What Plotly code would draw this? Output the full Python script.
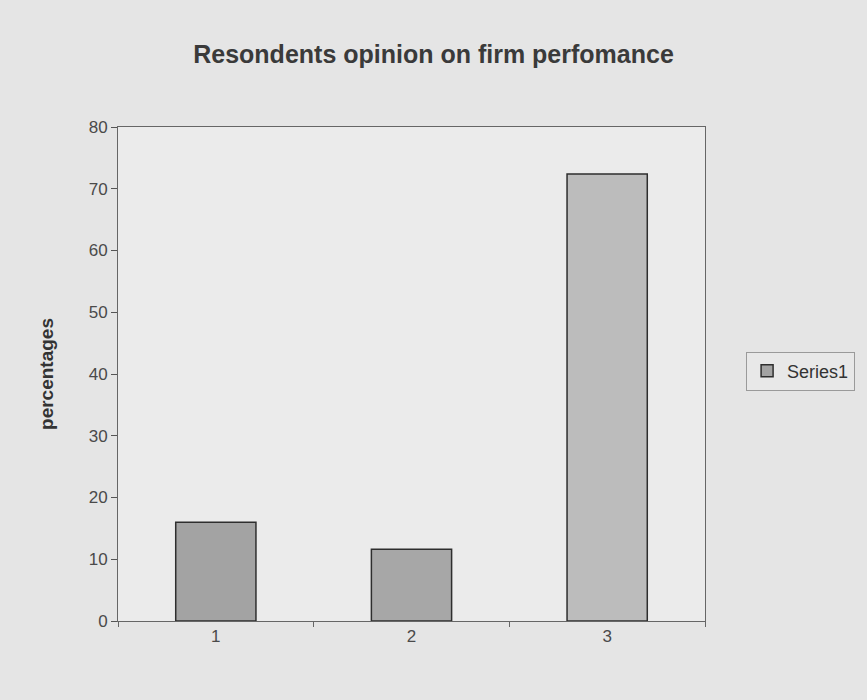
import plotly.graph_objects as go

categories = ["1", "2", "3"]
values = [16.0, 11.6, 72.4]
series_name = "Series1"
y_ticks = [0, 10, 20, 30, 40, 50, 60, 70, 80]
title_text = "Resondents opinion on firm perfomance"
y_title = "percentages"

bar_colors = ["#a3a3a3", "#a7a7a7", "#bcbcbc"]

fig = go.Figure()
fig.add_trace(go.Bar(
    x=categories, y=values, name=series_name,
    marker=dict(color=bar_colors, line=dict(color="#2e2e2e", width=1.5)),
    width=0.41, showlegend=True,
))

font_family = "Liberation Sans, Arial, sans-serif"
fig.update_layout(
    width=867, height=700,
    margin=dict(l=118, r=160, t=127, b=79),
    paper_bgcolor="#e5e5e5",
    plot_bgcolor="#ebebeb",
    font=dict(family=font_family, color="#333333", size=17),
    title=dict(text="<b>" + title_text + "</b>", x=0.5, xanchor="center",
               y=1 - 54 / 700, yanchor="middle",
               font=dict(size=25, color="#3a3a3a", family=font_family)),
    showlegend=True,
    legend=dict(x=1.07, y=0.506, xanchor="left", yanchor="middle",
                bgcolor="#e8e8e8", bordercolor="#9a9a9a", borderwidth=1,
                font=dict(size=18, color="#333333")),
    bargap=0.59,
)
fig.update_yaxes(
    range=[0, 80], tickvals=y_ticks, ticks="outside", ticklen=6,
    tickcolor="#555555", showgrid=False, showline=True, linecolor="#666666",
    mirror=True, zeroline=False,
    title=dict(text="<b>" + y_title + "</b>", font=dict(size=19, color="#333333"), standoff=30),
    tickfont=dict(size=17, color="#4a4a4a"),
)
fig.update_xaxes(
    showgrid=False, showline=True, linecolor="#666666", mirror=True,
    ticks="outside", tickson="boundaries", ticklen=5, tickcolor="#666666",
    tickfont=dict(size=17, color="#4a4a4a"),
)

fig.write_html("out.html")
